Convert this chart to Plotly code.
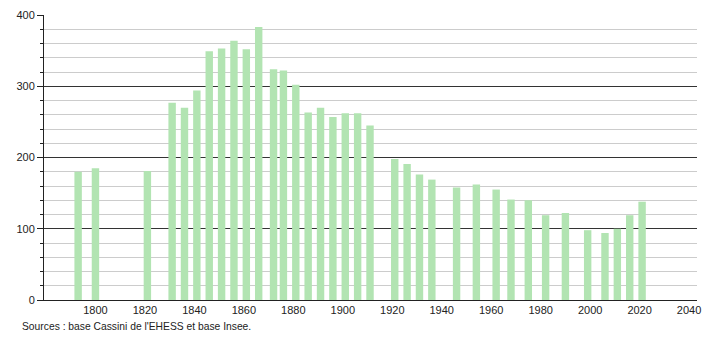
import plotly.graph_objects as go

years = [1793, 1800, 1821, 1831, 1836, 1841, 1846, 1851, 1856, 1861, 1866, 1872,
         1876, 1881, 1886, 1891, 1896, 1901, 1906, 1911, 1921, 1926, 1931, 1936,
         1946, 1954, 1962, 1968, 1975, 1982, 1990, 1999, 2006, 2011, 2016, 2021]
population = [180, 185, 181, 277, 270, 294, 349, 353, 364, 352, 383, 324,
              322, 302, 263, 270, 257, 262, 262, 245, 198, 191, 176, 169,
              158, 162, 155, 141, 140, 119, 122, 98, 94, 100, 119, 138]
x_ticks = [1800, 1820, 1840, 1860, 1880, 1900, 1920, 1940, 1960, 1980, 2000, 2020, 2040]
y_ticks = [0, 100, 200, 300, 400]
source_text = "Sources : base Cassini de l'EHESS et base Insee."

fig = go.Figure(go.Bar(
    x=years, y=population, width=3,
    marker=dict(color="#b2e4b2", line=dict(width=0)),
    hoverinfo="x+y",
))

font = dict(family="Liberation Sans, Arial, sans-serif", size=11, color="#222")
small_font = dict(family="Liberation Sans, Arial, sans-serif", size=10.3, color="#222")

fig.update_layout(
    width=710, height=340,
    margin=dict(l=44, r=9, t=10, b=40),
    paper_bgcolor="white", plot_bgcolor="white",
    showlegend=False,
    font=font,
    xaxis=dict(
        range=[1779.2, 2043.2], tickvals=x_ticks, ticks="", showgrid=False,
        showline=True, linecolor="#222", linewidth=1, zeroline=False,
        tickfont=font,
    ),
    yaxis=dict(
        range=[0, 400], tickvals=y_ticks, ticks="outside", ticklen=6,
        tickcolor="#222", showgrid=True, gridcolor="#333", gridwidth=1,
        showline=True, linecolor="#222", linewidth=1, zeroline=False,
        tickfont=font,
        minor=dict(dtick=20, ticks="outside", ticklen=3, tickcolor="#222",
                   showgrid=True, gridcolor="#cccccc", gridwidth=1),
    ),
    annotations=[dict(
        text=source_text, xref="paper", yref="paper",
        x=(20 - 44) / 657, y=-(327 - 300) / 290,
        xanchor="left", yanchor="middle", showarrow=False, font=small_font,
    )],
)

fig.write_html("out.html")
